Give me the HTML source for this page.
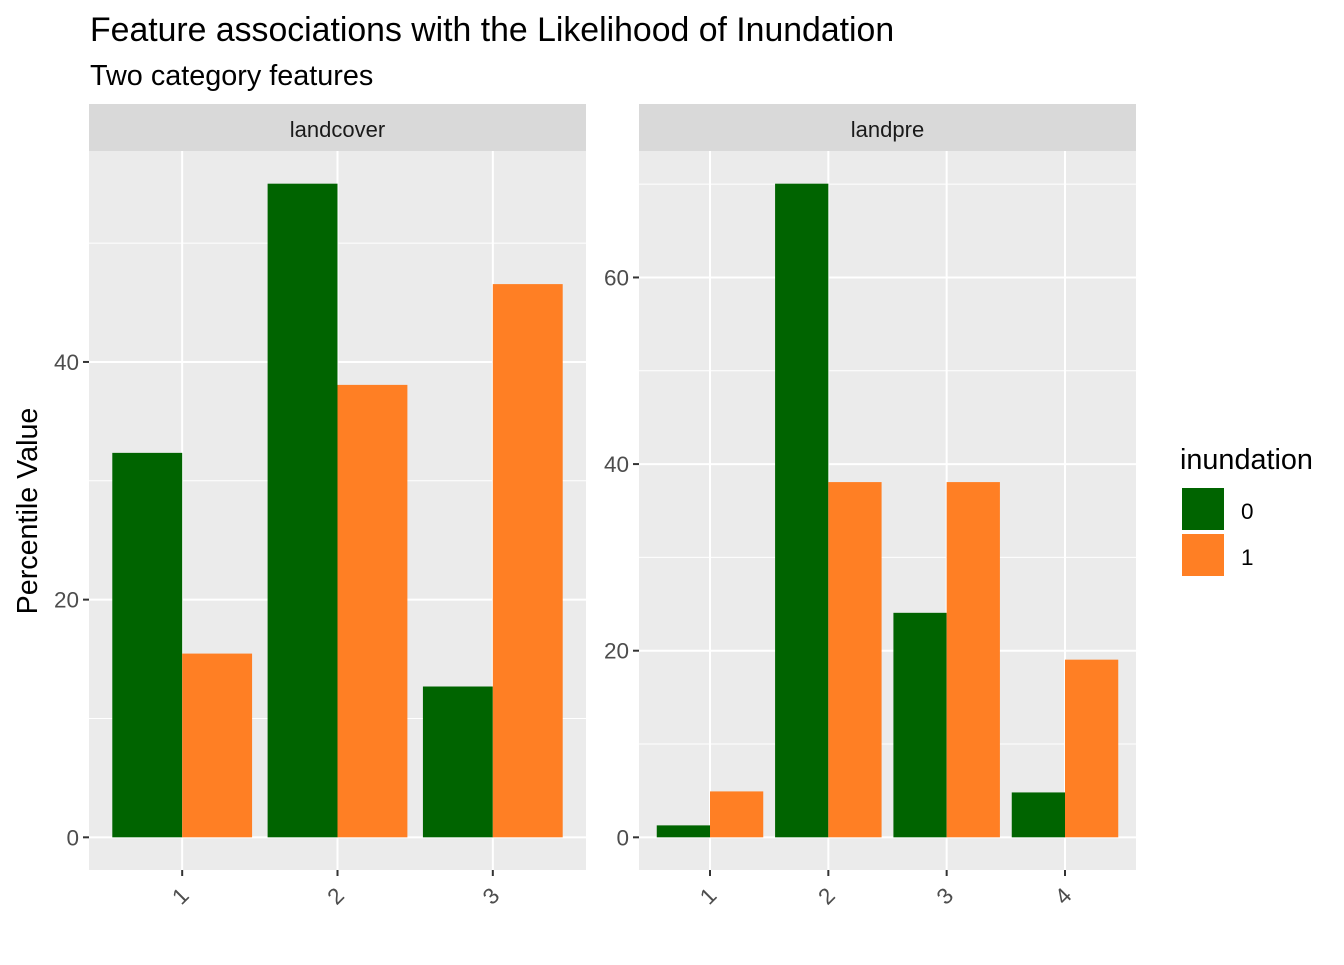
<!DOCTYPE html>
<html><head><meta charset="utf-8"><style>
body{margin:0;background:#fff;font-family:"Liberation Sans",Arial,sans-serif}
</style></head><body>
<svg id="chart" width="1344" height="960" xmlns="http://www.w3.org/2000/svg" font-family="Liberation Sans, Arial, sans-serif">
<rect width="1344" height="960" fill="#fff"/>
<text x="90" y="41" font-size="33.8" fill="#000">Feature associations with the Likelihood of Inundation</text>
<text x="90" y="85" font-size="28.8" fill="#000">Two category features</text>
<text transform="translate(37,511) rotate(-90)" text-anchor="middle" font-size="28.7" fill="#000">Percentile Value</text>
<g>
<text x="1180" y="469" font-size="28.8" fill="#000">inundation</text>
<rect x="1182" y="488" width="42" height="42" fill="#006400"/>
<rect x="1182" y="534" width="42" height="42" fill="#FF7F24"/>
<text x="1241" y="519" font-size="22.5" fill="#000">0</text>
<text x="1241" y="565" font-size="22.5" fill="#000">1</text>
</g>
</svg>
<script>
const landcoverCats=["1","2","3"];
const landcover0=[32.35,55.0,12.69];
const landcover1=[15.46,38.07,46.55];
const landpreCats=["1","2","3","4"];
const landpre0=[1.28,70.05,24.06,4.81];
const landpre1=[4.92,38.07,38.07,19.04];
const leftTicks=[0,20,40];
const rightTicks=[0,20,40,60];
const svg=document.getElementById('chart');
const NS="http://www.w3.org/2000/svg";
function mk(t,a,p){const e=document.createElementNS(NS,t);for(const k in a)e.setAttribute(k,a[k]);(p||svg).appendChild(e);return e;}
function panel(name,x0,x1,cats,s0,s1,ticks,ymin,ymax){
  const top=151,bot=870;
  const g=mk('g',{});
  
  
  const strip=mk('rect',{x:x0,y:104,width:x1-x0,height:47,fill:'#D9D9D9'},g);
  
  
  const st=mk('text',{x:(x0+x1)/2,y:137,'text-anchor':'middle','font-size':22,fill:'#1a1a1a'},g);st.textContent=name;
  
  
  mk('rect',{x:x0,y:top,width:x1-x0,height:bot-top,fill:'#EBEBEB'},g);
  const Y=v=>bot-(v-ymin)/(ymax-ymin)*(bot-top);
  const n=cats.length, step=(x1-x0)/(n-1+1.2);
  const X=i=>x0+step*(0.6+i);
  for(let v=10; v<ymax; v+=20){
    mk('line',{x1:x0,x2:x1,y1:Y(v),y2:Y(v),stroke:'#fff','stroke-width':1},g);
  }
  ticks.forEach(t=>{
    mk('line',{x1:x0,x2:x1,y1:Y(t),y2:Y(t),stroke:'#fff','stroke-width':2},g);
    mk('line',{x1:x0-6,x2:x0,y1:Y(t),y2:Y(t),stroke:'#333','stroke-width':2},g);
    const tl=mk('text',{x:x0-10,y:Y(t)+8,'text-anchor':'end','font-size':22.5,fill:'#4d4d4d'},g);tl.textContent=t;
    
    
  });
  cats.forEach((c,i)=>{
    mk('line',{x1:X(i),x2:X(i),y1:top,y2:bot,stroke:'#fff','stroke-width':2},g);
    mk('line',{x1:X(i),x2:X(i),y1:bot,y2:bot+6,stroke:'#333','stroke-width':2},g);
    const tl=mk('text',{transform:`translate(${X(i)+8},${bot+27}) rotate(-45)`,'text-anchor':'end','font-size':22.5,fill:'#4d4d4d'},g);tl.textContent=c;
    
    
  });
  const bw=step*0.45;
  cats.forEach((c,i)=>{
    const b0=mk('rect',{x:X(i)-bw,y:Y(s0[i]),width:bw,height:Y(0)-Y(s0[i]),fill:'#006400'},g);
    
    
    const b1=mk('rect',{x:X(i),y:Y(s1[i]),width:bw,height:Y(0)-Y(s1[i]),fill:'#FF7F24'},g);
    
    
  });
}
const lmax=Math.max(...landcover0,...landcover1), rmax=Math.max(...landpre0,...landpre1);
panel('landcover',89,586,landcoverCats,landcover0,landcover1,leftTicks,-lmax*0.05,lmax*1.05);
panel('landpre',639,1136,landpreCats,landpre0,landpre1,rightTicks,-rmax*0.05,rmax*1.05);
</script>
</body></html>
